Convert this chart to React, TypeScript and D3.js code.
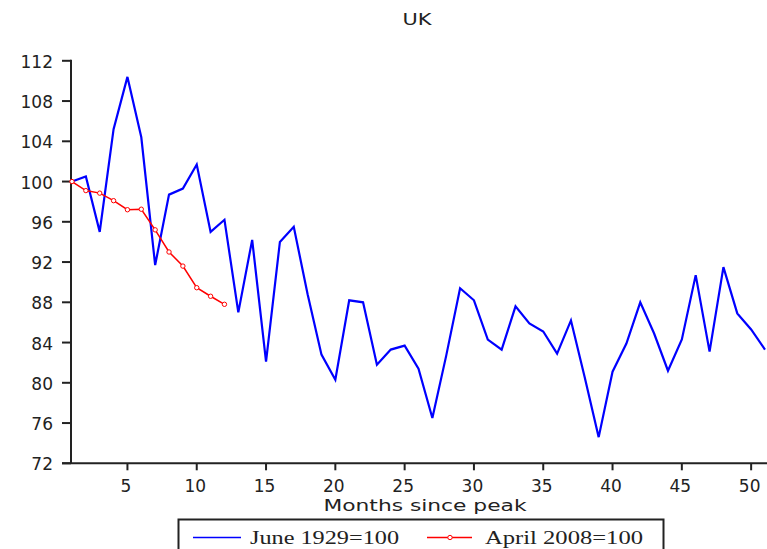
import React from "react";
import * as d3 from "d3";

const months1929: number[] = Array.from({ length: 51 }, (_, i) => i + 1);
const june1929: number[] = [
  100, 100.5, 95.0, 105.2, 110.4, 104.4, 91.7, 98.7, 99.3, 101.7,
  95.0, 96.2, 87.0, 94.2, 82.1, 94.0, 95.5, 88.8, 82.8, 80.3,
  88.2, 88.0, 81.8, 83.3, 83.7, 81.4, 76.5, 82.7, 89.4, 88.2,
  84.3, 83.3, 87.6, 85.9, 85.1, 82.9, 86.2, 80.5, 74.6, 81.1,
  83.9, 88.0, 84.9, 81.2, 84.3, 90.7, 83.1, 91.5, 86.9, 85.3, 83.3,
];
const months2008: number[] = Array.from({ length: 12 }, (_, i) => i + 1);
const april2008: number[] = [100, 99.1, 98.85, 98.1, 97.2, 97.25, 95.2, 93.0, 91.6, 89.45, 88.6, 87.8];

const xTicks: number[] = [5, 10, 15, 20, 25, 30, 35, 40, 45, 50];
const yTicks: number[] = [72, 76, 80, 84, 88, 92, 96, 100, 104, 108, 112];
const title = "UK";
const xLabel = "Months since peak";
const legendLabels = ["June 1929=100", "April 2008=100"];

export default function App() {
  const W = 767;
  const H = 549;
  const x = d3.scaleLinear().domain([1, 51]).range([72, 765]);
  const y = d3.scaleLinear().domain([72, 112]).range([463.3, 60.8]);
  const line = d3
    .line<[number, number]>()
    .x((d) => x(d[0]))
    .y((d) => y(d[1]));
  const blue: [number, number][] = months1929.map((m, i) => [m, june1929[i]]);
  const red: [number, number][] = months2008.map((m, i) => [m, april2008[i]]);
  const axisX0 = 71;
  const axisY0 = y(72);
  const tickFont = "'DejaVu Sans', sans-serif";

  return (
    <svg
      width={W}
      height={H}
      style={{ position: "absolute", left: 0, top: 0, background: "#fff" }}
    >
      <rect x={0} y={0} width={W} height={H} fill="#fff" />
      <text
        x={417}
        y={25}
        textAnchor="middle"
        fontFamily={tickFont}
        fontSize={15}
        textLength={29}
        lengthAdjust="spacingAndGlyphs"
        fill="#222"
      >
        {title}
      </text>

      {/* axes */}
      <line x1={axisX0} y1={y(112) - 1} x2={axisX0} y2={axisY0} stroke="#222" strokeWidth={2} />
      <line x1={62} y1={axisY0} x2={767} y2={axisY0} stroke="#222" strokeWidth={2} />
      {yTicks.map((t) => (
        <g key={"y" + t}>
          <line x1={62} x2={axisX0} y1={y(t)} y2={y(t)} stroke="#222" strokeWidth={2} />
          <text
            x={53}
            y={y(t) + 7}
            textAnchor="end"
            fontFamily={tickFont}
            fontSize={17}
            fill="#222"
          >
            {t}
          </text>
        </g>
      ))}
      {xTicks.map((t) => (
        <g key={"x" + t}>
          <line x1={x(t)} x2={x(t)} y1={axisY0} y2={axisY0 + 7} stroke="#222" strokeWidth={2} />
          <text
            x={x(t) - 1.5}
            y={492}
            textAnchor="middle"
            fontFamily={tickFont}
            fontSize={17}
            fill="#222"
          >
            {t}
          </text>
        </g>
      ))}
      <text
        x={425}
        y={511}
        textAnchor="middle"
        fontFamily={tickFont}
        fontSize={16}
        textLength={203}
        lengthAdjust="spacingAndGlyphs"
        fill="#222"
      >
        {xLabel}
      </text>

      {/* series */}
      <path d={line(blue) || ""} fill="none" stroke="#0000ff" strokeWidth={2.2} />
      <path d={line(red) || ""} fill="none" stroke="#ff0000" strokeWidth={1.5} />
      {red.map((d, i) => (
        <circle
          key={"c" + i}
          cx={x(d[0])}
          cy={y(d[1])}
          r={2.2}
          fill="#fff"
          stroke="#ff0000"
          strokeWidth={1}
        />
      ))}

      {/* legend */}
      <rect x={178.5} y={519.5} width={485} height={45} fill="#fff" stroke="#222" strokeWidth={2} />
      <line x1={193} x2={241} y1={537.5} y2={537.5} stroke="#0000ff" strokeWidth={1.5} />
      <text
        x={250}
        y={544}
        fontFamily="'Liberation Serif', serif"
        fontSize={19}
        textLength={149}
        lengthAdjust="spacingAndGlyphs"
        fill="#222"
      >
        {legendLabels[0]}
      </text>
      <line x1={427} x2={472} y1={537.5} y2={537.5} stroke="#ff0000" strokeWidth={1.5} />
      <circle cx={450} cy={537.5} r={2.2} fill="#fff" stroke="#ff0000" strokeWidth={1} />
      <text
        x={485}
        y={544}
        fontFamily="'Liberation Serif', serif"
        fontSize={19}
        textLength={158}
        lengthAdjust="spacingAndGlyphs"
        fill="#222"
      >
        {legendLabels[1]}
      </text>
    </svg>
  );
}
